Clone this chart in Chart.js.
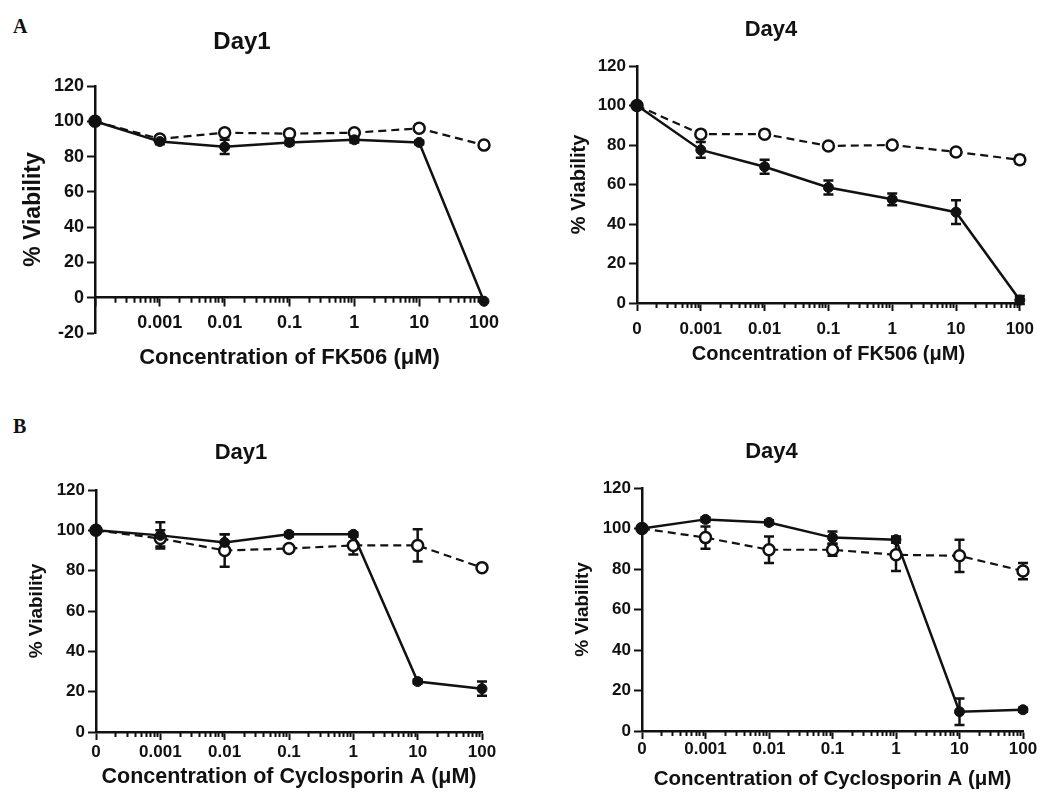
<!DOCTYPE html>
<html>
<head>
<meta charset="utf-8">
<script src="https://cdn.jsdelivr.net/npm/chart.js@4.4.1/dist/chart.umd.min.js"></script>
<style>
body { margin: 0; background: #fff; width: 1042px; height: 792px; position: relative; overflow: hidden; }
canvas { position: absolute; }
.lt { position: absolute; left: 13px; font: bold 20px 'Liberation Serif', 'Times New Roman', serif; line-height: 20px; color: #111; }
</style>
</head>
<body>
<div class="lt" style="top:16px">A</div>
<div class="lt" style="top:416px">B</div>
<canvas id="a1" width="520" height="400" style="left:0;top:0"></canvas>
<canvas id="a4" width="522" height="400" style="left:520px;top:0"></canvas>
<canvas id="b1" width="520" height="392" style="left:0;top:400px"></canvas>
<canvas id="b4" width="522" height="392" style="left:520px;top:400px"></canvas>
<script>
// concentrations (uM), plotted at equal spacing like the original log axis
const conc = ['0', '0.001', '0.01', '0.1', '1', '10', '100']
const concA1 = ['', '0.001', '0.01', '0.1', '1', '10', '100']

// FK506 day 1
const fk1Filled = [100, 88.5, 85.5, 88, 89.5, 88, -2]
const fk1FilledErr = [0, 1.5, 4, 1.5, 1.5, 1, 0]
const fk1Open = [100, 90, 93.5, 93, 93.5, 96, 86.5]
const fk1OpenErr = [0, 1, 2, 1.5, 1.5, 2, 1.5]

// FK506 day 4
const fk4Filled = [100, 77.5, 69, 58.5, 52.5, 46, 1.5]
const fk4FilledErr = [0, 4, 3.5, 3.5, 3, 6, 2]
const fk4Open = [100, 85.5, 85.5, 79.5, 80, 76.5, 72.5]
const fk4OpenErr = [0, 1, 1, 1, 1, 1, 2]

// Cyclosporin A day 1
const csa1Filled = [100, 97.5, 94, 98, 98, 25, 21.5]
const csa1FilledErr = [0, 6.5, 4, 1, 1, 1, 3.5]
const csa1Open = [100, 96, 90, 91, 92.5, 92.5, 81.5]
const csa1OpenErr = [0, 4, 8, 1, 4.5, 8, 1.5]

// Cyclosporin A day 4
const csa4Filled = [100, 104.5, 103, 95.5, 94.5, 9.5, 10.5]
const csa4FilledErr = [0, 1, 1, 3, 1.5, 6.5, 1]
const csa4Open = [100, 95.5, 89.5, 89.5, 87, 86.5, 79]
const csa4OpenErr = [0, 5.5, 6.5, 3, 8, 8, 4]

const FONT = "'Liberation Sans', Arial, sans-serif"
const INK = '#111'

function ds(vals, errs, open) {
  return {
    data: vals.map((v, i) => ({x: i, y: v})),
    errors: errs,
    borderColor: INK,
    borderWidth: open ? 2.2 : 2.5,
    borderDash: open ? [8, 5] : [],
    pointRadius: open ? 5.5 : 5,
    pointBorderWidth: open ? 2.5 : 1,
    pointBackgroundColor: open ? '#fff' : INK,
    pointBorderColor: INK,
    order: open ? 2 : 1,
    clip: false,
    tension: 0
  }
}

// error bars, drawn under the symbols
const errorBars = {
  id: 'errorBars',
  beforeDatasetsDraw(chart) {
    const ctx = chart.ctx, ys = chart.scales.y
    ctx.save()
    ctx.strokeStyle = INK
    ctx.lineWidth = 2.5
    chart.data.datasets.forEach((d, di) => {
      const meta = chart.getDatasetMeta(di)
      d.errors.forEach((e, i) => {
        if (!e) return
        const px = meta.data[i].x, v = d.data[i].y
        const t = ys.getPixelForValue(v + e), b = ys.getPixelForValue(v - e)
        ctx.beginPath()
        ctx.moveTo(px, t); ctx.lineTo(px, b)
        ctx.moveTo(px - 5, t); ctx.lineTo(px + 5, t)
        ctx.moveTo(px - 5, b); ctx.lineTo(px + 5, b)
        ctx.stroke()
      })
    })
    ctx.restore()
  }
}

// minor log ticks between the decades
const minorTicks = {
  id: 'minorTicks',
  afterDraw(chart) {
    const ctx = chart.ctx, xs = chart.scales.x
    const y0 = chart.scales.y.getPixelForValue(0)
    ctx.save()
    ctx.strokeStyle = INK
    ctx.lineWidth = 2
    ctx.beginPath()
    for (let d = 0; d < conc.length - 1; d++) {
      for (let k = 2; k < 10; k++) {
        const px = Math.round(xs.getPixelForValue(d + Math.log10(k))) + 0.5
        ctx.moveTo(px, y0); ctx.lineTo(px, y0 + 5)
      }
    }
    ctx.stroke()
    ctx.restore()
  }
}

function makeChart(id, p) {
  const [cl, ct, cw, ch] = p.canvas
  const f = s => ({family: FONT, weight: 'bold', size: s})
  const tLh = p.fTitle * 1.2, xLh = p.fXTitle * 1.2, yLh = p.fYTitle * 1.2
  const tpTop = p.titleY - ct - tLh / 2
  const tpBot = p.yTop - ct - tLh - tpTop
  const yW = p.x0 - cl
  const byValue = typeof p.xPos === 'object'
  const xH = byValue ? 80 : ct + ch - p.yBot
  const padBottom = byValue ? ct + ch - p.yBot : 0
  const xTitlePad = byValue ? p.zeroY + xH - p.xTitleY - xLh / 2 : ct + ch - p.xTitleY - xLh / 2
  const axisY = byValue ? p.zeroY : p.yBot

  return new Chart(document.getElementById(id), {
    type: 'line',
    data: {datasets: [ds(p.open, p.openErr, true), ds(p.filled, p.filledErr, false)]},
    options: {
      responsive: false,
      animation: false,
      layout: {padding: {left: 0, right: cl + cw - p.x6, top: 0, bottom: padBottom}},
      plugins: {
        legend: {display: false},
        tooltip: {enabled: false},
        title: {display: true, text: p.title, color: INK, font: f(p.fTitle), padding: {top: tpTop, bottom: tpBot}}
      },
      scales: {
        x: {
          type: 'linear', min: 0, max: 6, position: p.xPos,
          afterFit: s => { s.height = xH },
          border: {color: INK, width: 2.5},
          grid: {drawOnChartArea: false, drawTicks: true, tickLength: 8, tickWidth: 2, tickColor: INK},
          ticks: {stepSize: 1, autoSkip: false, maxRotation: 0, color: INK, font: f(p.fTick),
            padding: p.xTickTop - axisY - 11, callback: v => p.labels[v]},
          title: {display: true, text: p.xTitle, color: INK, font: f(p.fXTitle), padding: {top: 0, bottom: xTitlePad}}
        },
        y: {
          min: p.ymin, max: p.ymax,
          afterFit: s => { s.width = yW },
          border: {color: INK, width: 2.5},
          grid: {drawOnChartArea: false, drawTicks: true, tickLength: 8, tickWidth: 2, tickColor: INK},
          ticks: {stepSize: 20, color: INK, font: f(p.fTick), padding: 3},
          title: {display: true, text: '% Viability', color: INK, font: f(p.fYTitle), padding: {top: p.yTitleX - cl - yLh / 2, bottom: 0}}
        }
      }
    },
    plugins: [errorBars, minorTicks]
  })
}

makeChart('a1', {
  canvas: [0, 0, 520, 400], x0: 95, x6: 484, yTop: 86, yBot: 333, zeroY: 298, ymin: -20, ymax: 120,
  xPos: {y: 0}, titleY: 42, xTitleY: 358, yTitleX: 34, xTickTop: 316,
  fTitle: 24, fTick: 18, fXTitle: 22, fYTitle: 23,
  title: 'Day1', xTitle: 'Concentration of FK506 (\u03bcM)', labels: concA1,
  filled: fk1Filled, filledErr: fk1FilledErr, open: fk1Open, openErr: fk1OpenErr
})

makeChart('a4', {
  canvas: [520, 0, 522, 400], x0: 637, x6: 1022, yTop: 66, yBot: 303, ymin: 0, ymax: 120,
  xPos: 'bottom', titleY: 30, xTitleY: 354, yTitleX: 579, xTickTop: 322,
  fTitle: 22, fTick: 17, fXTitle: 20, fYTitle: 20,
  title: 'Day4', xTitle: 'Concentration of FK506 (\u03bcM)', labels: conc,
  filled: fk4Filled, filledErr: fk4FilledErr, open: fk4Open, openErr: fk4OpenErr
})

makeChart('b1', {
  canvas: [0, 400, 520, 392], x0: 96, x6: 482, yTop: 490, yBot: 732, ymin: 0, ymax: 120,
  xPos: 'bottom', titleY: 453, xTitleY: 777, yTitleX: 37, xTickTop: 745,
  fTitle: 22, fTick: 17, fXTitle: 21.5, fYTitle: 19,
  title: 'Day1', xTitle: 'Concentration of Cyclosporin A (\u03bcM)', labels: conc,
  filled: csa1Filled, filledErr: csa1FilledErr, open: csa1Open, openErr: csa1OpenErr
})

makeChart('b4', {
  canvas: [520, 400, 522, 392], x0: 642, x6: 1023, yTop: 488, yBot: 731, ymin: 0, ymax: 120,
  xPos: 'bottom', titleY: 452, xTitleY: 779, yTitleX: 583, xTickTop: 742,
  fTitle: 22, fTick: 17, fXTitle: 20.5, fYTitle: 19,
  title: 'Day4', xTitle: 'Concentration of Cyclosporin A (\u03bcM)', labels: conc,
  filled: csa4Filled, filledErr: csa4FilledErr, open: csa4Open, openErr: csa4OpenErr
})
</script>
</body>
</html>
